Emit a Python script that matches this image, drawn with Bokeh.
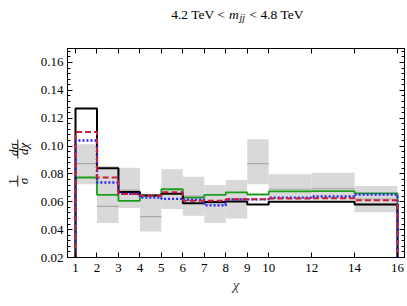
import numpy as np
from bokeh.plotting import figure
from bokeh.layouts import column, row
from bokeh.models import Range1d, FixedTicker, LinearAxis
from bokeh.core.properties import value
from bokeh.embed import file_html
from bokeh.resources import INLINE

# ---- data ----
edges = [1, 2, 3, 4, 5, 6, 7, 8, 9, 10, 12, 14, 16]
black = [0.127, 0.084, 0.067, 0.0645, 0.0657, 0.059, 0.0598, 0.0602, 0.058, 0.060, 0.060, 0.058]
green = [0.0774, 0.065, 0.0607, 0.0645, 0.069, 0.063, 0.065, 0.0667, 0.0652, 0.0674, 0.0676, 0.066]
red = [0.110, 0.0774, 0.0655, 0.0645, 0.0669, 0.0607, 0.0607, 0.0618, 0.0618, 0.0624, 0.0626, 0.061]
blue = [0.104, 0.0738, 0.0657, 0.063, 0.0621, 0.0614, 0.0574, 0.0617, 0.0617, 0.063, 0.0638, 0.0652]
data_c = [0.0874, 0.0567, 0.0684, 0.0493, 0.069, 0.064, 0.0585, 0.062, 0.0874, 0.069, 0.0695, 0.062]
band_hi = [0.1012, 0.0857, 0.0845, 0.0635, 0.0834, 0.0779, 0.0721, 0.0757, 0.1048, 0.0798, 0.0809, 0.0714]
band_lo = [0.0726, 0.0448, 0.0556, 0.0386, 0.0548, 0.050, 0.0448, 0.048, 0.0726, 0.0615, 0.0615, 0.0524]
x_ticks = [1, 2, 3, 4, 5, 6, 7, 8, 9, 10, 12, 14, 16]
y_ticks = [0.02, 0.04, 0.06, 0.08, 0.10, 0.12, 0.14, 0.16]
y_minor = [round(0.02 + 0.004 * i, 4) for i in range(38)]

X0, X1 = 0.627, 16.326
Y0, Y1 = 0.02, 0.17
FONT = "Liberation Serif"

W, H = 407, 306
TH = 24          # title strip height
LW = 34          # y-label strip width
MW, MH = W - LW, H - TH
FL, FR, FT, FB = 67, 404, 48, 257   # frame edges in page pixels


def bare(f):
    f.grid.visible = False
    f.outline_line_color = None
    f.background_fill_color = "white"
    f.border_fill_color = "white"


# ---- main plot ----
p = figure(width=MW, height=MH, output_backend="svg", toolbar_location=None,
           x_range=Range1d(X0, X1), y_range=Range1d(Y0, Y1),
           min_border_left=FL - LW, min_border_right=W - FR, min_border_top=FT - TH,
           min_border_bottom=H - FB)
p.grid.visible = False
p.background_fill_color = "white"
p.outline_line_color = "black"
p.outline_line_width = 1

left = edges[:-1]
right = edges[1:]
p.quad(left=left, right=right, bottom=band_lo, top=band_hi,
       fill_color="#d9d9d9", line_color=None)
p.segment(x0=left, x1=right, y0=data_c, y1=data_c, line_color="#a8a8a8", line_width=1.2)


def step(vals):
    xs = np.repeat(edges, 2)
    ys = np.concatenate([[Y0], np.repeat(vals, 2), [Y0]])
    return xs, ys


for vals, col, w, dash in [(green, "#1c9e1c", 1.8, "solid"),
                           (black, "black", 2.0, "solid"),
                           (blue, "#2424ff", 2.4, "2 2"),
                           (red, "#c81e3a", 2.0, "6 3")]:
    xs, ys = step(vals)
    p.line(xs, ys, line_color=col, line_width=w, line_dash=dash)


def style(ax):
    ax.axis_line_color = "black"
    ax.major_tick_in = 5
    ax.major_tick_out = 0
    ax.minor_tick_in = 3
    ax.minor_tick_out = 0
    ax.major_tick_line_color = "black"
    ax.minor_tick_line_color = "black"
    ax.major_label_text_font = FONT
    ax.major_label_text_font_size = "13px"
    ax.major_label_text_color = "black"


xt = FixedTicker(ticks=x_ticks, minor_ticks=[])
yt = FixedTicker(ticks=y_ticks, minor_ticks=y_minor)
p.xaxis.ticker = xt
p.yaxis.ticker = yt
p.yaxis.major_label_overrides = {v: f"{v:.2f}" for v in y_ticks}
style(p.xaxis[0])
style(p.yaxis[0])
p.xaxis.major_label_standoff = 6
p.yaxis.major_label_standoff = 4
p.xaxis.axis_label = "χ"
p.xaxis.axis_label_text_font = FONT
p.xaxis.axis_label_text_font_style = "italic"
p.xaxis.axis_label_text_font_size = "15px"
p.xaxis.axis_label_standoff = 2

top = LinearAxis(ticker=xt)
style(top)
top.major_label_overrides = {v: "" for v in x_ticks}
top.major_label_standoff = 0
p.add_layout(top, "above")
rt = LinearAxis(ticker=yt)
style(rt)
rt.major_label_overrides = {v: "" for v in y_ticks}
rt.major_label_standoff = 0
p.add_layout(rt, "right")


def ttext(f, X, Y, txt, size, style_="normal", align="left", angle=0.0, base="alphabetic"):
    f.text(x=[X], y=[Y], text=[txt], text_font=value(FONT), text_font_size=value(size),
           text_font_style=style_, text_align=align, text_baseline=base, angle=angle,
           text_color="black")


# ---- title strip: x in page pixels, y = TH - page y ----
t = figure(width=W, height=TH, output_backend="svg", toolbar_location=None,
           x_range=Range1d(FL, FR), y_range=Range1d(0, TH),
           x_axis_location=None, y_axis_location=None,
           min_border_left=FL, min_border_right=W - FR, min_border_top=0, min_border_bottom=0)
bare(t)
ttext(t, 225, TH - 14, "4.2 TeV <", "13.5px", align="right")
ttext(t, 228.5, TH - 14, "m", "13.5px", style_="italic")
ttext(t, 239, TH - 17, "jj", "10px", style_="italic")
ttext(t, 249, TH - 14, "< 4.8 TeV", "13.5px")

# ---- y-label strip: x in page pixels, y = H - page y ----
yl = figure(width=LW, height=MH, output_backend="svg", toolbar_location=None,
            x_range=Range1d(0, LW), y_range=Range1d(H - FB, H - FT),
            x_axis_location=None, y_axis_location=None,
            min_border_left=0, min_border_right=0, min_border_top=FT - TH,
            min_border_bottom=H - FB)
bare(yl)
A = np.pi / 2


def ly(Y):
    return H - Y


ttext(yl, 12.5, ly(181), "1", "13px", align="center", angle=A, base="middle")
ttext(yl, 23, ly(180.5), "σ", "13px", style_="italic", align="center", angle=A, base="middle")
ttext(yl, 12.5, ly(149), "dσ", "13px", style_="italic", align="center", angle=A, base="middle")
ttext(yl, 23, ly(148.5), "dχ", "13px", style_="italic", align="center", angle=A, base="middle")
yl.segment(x0=[17.3, 17.3], x1=[17.3, 17.3], y0=[ly(175), ly(139)], y1=[ly(186), ly(158)],
           line_color="black", line_width=0.9)

layout = column(t, row(yl, p, spacing=0), spacing=0)
open("out.html", "w").write(file_html(layout, INLINE))
